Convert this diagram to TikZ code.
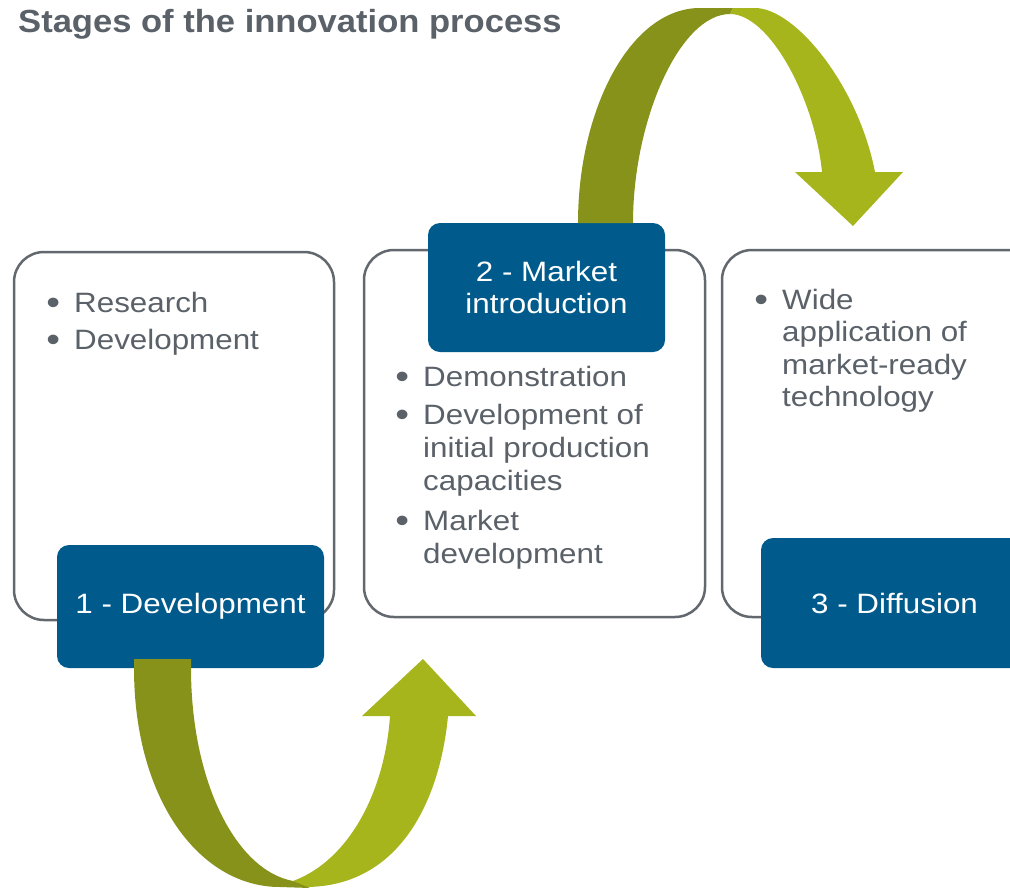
\documentclass[tikz,border=0pt]{standalone}
\usepackage{fontspec}
\setmainfont{Liberation Sans}
\newfontfamily\bodyfont[FakeStretch=1.12]{Liberation Sans}
\newfontfamily\headfont[FakeStretch=1.08]{Liberation Sans}
\definecolor{framegray}{HTML}{62686E}
\definecolor{textgray}{HTML}{5A6168}
\definecolor{stageblue}{HTML}{005B8C}
\definecolor{olivedark}{HTML}{869219}
\definecolor{olivelight}{HTML}{A6B51B}
\newcommand\bodysize{\bodyfont\fontsize{28}{32.5}\selectfont}
\newcommand\itembullet{\llap{\raisebox{-2pt}{\fontsize{35}{35}\selectfont •}\hspace{14pt}}}
\tikzset{
  stagebox/.style={draw=framegray, line width=2.5pt, fill=white, rounded corners=30pt, inner sep=0pt},
  stagelabel/.style={fill=stageblue, rounded corners=12pt, text=white, font=\bodysize, inner sep=0pt, align=center},
  itemline/.style={anchor=base west, inner sep=0pt, text=textgray, font=\bodysize},
  headline/.style={anchor=base west, inner sep=0pt, text=textgray, font=\headfont\bfseries\fontsize{32}{38}\selectfont},
}
\begin{document}
\begin{tikzpicture}[x=1pt, y=-1pt]
\useasboundingbox (0,0) rectangle (1010,887);
\clip (0,0) rectangle (1010,887);

% heading
\node[headline] (title) at (18,32) {Stages of the innovation process};

% stage frames
\node[stagebox, minimum width=320pt, minimum height=368pt] (box1) at (174,436) {};
\node[stagebox, minimum width=341pt, minimum height=367pt] (box2) at (534.5,433.5) {};
\node[stagebox, minimum width=341pt, minimum height=367pt] (box3) at (892.5,433.5) {};

% stage labels
\node[stagelabel, minimum width=267pt, minimum height=123pt] (lab1) at (190.5,606.5) {1 - Development};
\node[stagelabel, minimum width=237pt, minimum height=129pt] (lab2) at (546.5,287.5) {2 - Market\\introduction};
\node[stagelabel, minimum width=267pt, minimum height=130pt] (lab3) at (894.5,603) {3 - Diffusion};

% bullet items, stage 1
\node[itemline] (s1a) at (74,312) {\itembullet Research};
\node[itemline] (s1b) at (74,349) {\itembullet Development};

% bullet items, stage 2
\node[itemline] (s2a) at (423,386) {\itembullet Demonstration};
\node[itemline] (s2b) at (423,424) {\itembullet Development of};
\node[itemline] (s2c) at (423,457) {initial production};
\node[itemline] (s2d) at (423,490) {capacities};
\node[itemline] (s2e) at (423,530) {\itembullet Market};
\node[itemline] (s2f) at (423,563) {development};

% bullet items, stage 3
\node[itemline] (s3a) at (782,309) {\itembullet Wide};
\node[itemline] (s3b) at (782,341) {application of};
\node[itemline] (s3c) at (782,374) {market-ready};
\node[itemline] (s3d) at (782,406) {technology};

% ribbon arrow from stage 2 over to stage 3
\fill[olivedark] (578,223) .. controls (578,110) and (630,8) .. (700,8) -- (733,8) -- (730,14)
  .. controls (680,14) and (633,120) .. (633,223) -- cycle;
\fill[olivelight] (730,14) -- (733,8) -- (755,8) .. controls (795,8) and (858,85) .. (875,172)
  -- (903,172) -- (853,226) -- (795,172) -- (822,172)
  .. controls (815,100) and (770,14) .. (730,14) -- cycle;

% ribbon arrow from stage 1 under to stage 2
\fill[olivelight] (293,881) -- (305,887) .. controls (400,887) and (440,800) .. (448,716)
  -- (476,716) -- (423,659) -- (362,716) -- (390,716)
  .. controls (385,790) and (350,860) .. (293,881) -- cycle;
\fill[olivedark] (134,659) -- (134,668) .. controls (134,800) and (200,887) .. (280,887) -- (310,888) -- (293,881)
  .. controls (235,870) and (191,780) .. (191,668) -- (191,659) -- cycle;
\end{tikzpicture}
\end{document}
